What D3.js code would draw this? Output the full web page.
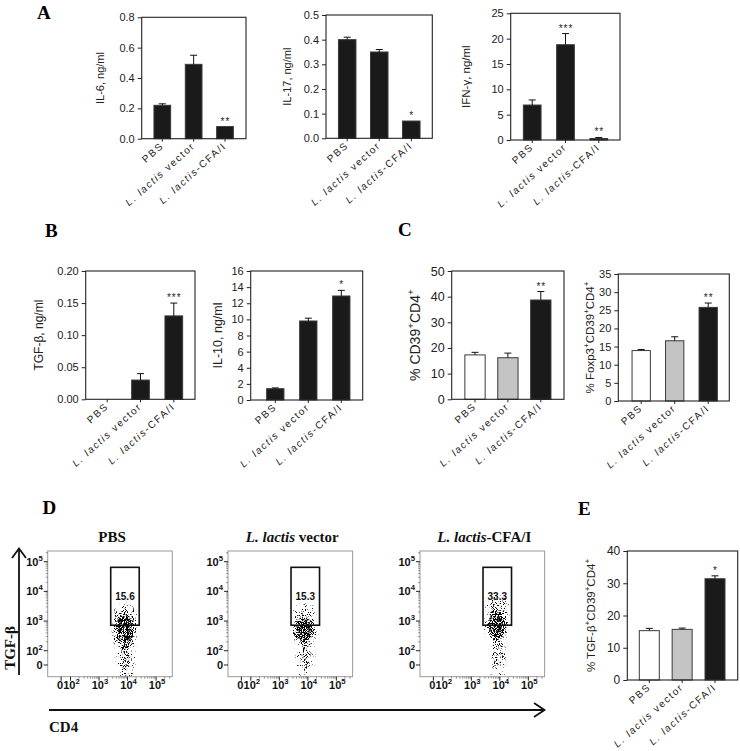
<!DOCTYPE html>
<html><head><meta charset="utf-8">
<script src="https://cdn.jsdelivr.net/npm/d3@7"></script>
<style>html,body{margin:0;padding:0;background:#fff;} svg{display:block;}</style>
</head><body>
<svg id="fig" width="740" height="751"></svg>
<script>
// ---------------- DATA ----------------
const groups = ["PBS", "L. lactis vector", "L. lactis-CFA/I"];

// Panel A
const il6 = [0.22, 0.49, 0.08], il6Err = [0.01, 0.06, 0.0], il6Sig = ["", "", "**"];
const il6Ticks = [0, 0.2, 0.4, 0.6, 0.8];
const il17 = [0.40, 0.35, 0.07], il17Err = [0.01, 0.01, 0.0], il17Sig = ["", "", "*"];
const il17Ticks = [0, 0.1, 0.2, 0.3, 0.4, 0.5];
const ifng = [6.9, 18.8, 0.3], ifngErr = [1.0, 2.2, 0.2], ifngSig = ["", "***", "**"];
const ifngTicks = [0, 5, 10, 15, 20, 25];
// Panel B
const tgfb = [0.0, 0.03, 0.13], tgfbErr = [0, 0.01, 0.02], tgfbSig = ["", "", "***"];
const tgfbTicks = [0, 0.05, 0.10, 0.15, 0.20];
const il10 = [1.4, 9.8, 12.9], il10Err = [0.1, 0.35, 0.7], il10Sig = ["", "", "*"];
const il10Ticks = [0, 2, 4, 6, 8, 10, 12, 14, 16];
// Panel C
const cd39 = [17.3, 16.2, 38.7], cd39Err = [1.0, 1.8, 3.3], cd39Sig = ["", "", "**"];
const cd39Ticks = [0, 10, 20, 30, 40, 50];
const foxp3 = [13.9, 16.6, 25.8], foxp3Err = [0.3, 1.1, 1.2], foxp3Sig = ["", "", "**"];
const foxp3Ticks = [0, 5, 10, 15, 20, 25, 30, 35];
// Panel E
const tgfbCells = [15.3, 15.7, 31.4], tgfbCellsErr = [0.7, 0.4, 0.9], tgfbCellsSig = ["", "", "*"];
const tgfbCellsTicks = [0, 10, 20, 30, 40];

// Panel D (flow cytometry, axis units = log10 display scale)
const gatePct = ["15.6", "15.3", "33.3"];
const gateBounds = [3.41, 4.41, 2.86, 4.81];       // x1, x2, y1, y2
const flowXTicks = [1.67, 2, 3, 4, 5];
const flowYTicks = [1.52, 2, 3, 4, 5];
const flowTickExp = ["", "2", "3", "4", "5"];      // "" means "0"
// event clouds: [x, y, rx, ry, density]
const cloudPBS    = [[3.90, 2.65, 0.38, 0.55, 0.62], [3.90, 3.20, 0.40, 0.32, 0.33], [3.93, 1.75, 0.28, 0.50, 0.42], [3.95, 1.16, 0.28, 0.05, 0.65]];
const cloudVector = [[3.88, 2.70, 0.37, 0.42, 0.68], [3.90, 3.25, 0.40, 0.32, 0.28], [3.90, 1.80, 0.27, 0.55, 0.38], [3.92, 1.16, 0.26, 0.05, 0.60]];
const cloudCFA    = [[3.90, 2.85, 0.37, 0.48, 0.68], [3.90, 3.50, 0.38, 0.36, 0.33], [3.93, 1.90, 0.24, 0.55, 0.38], [3.95, 1.16, 0.24, 0.05, 0.55]];

// ---------------- DRAW ----------------
const svg = d3.select("#fig");
svg.append("rect").attr("width", 740).attr("height", 751).attr("fill", "#fff");
const SANS = "'Liberation Sans', Arial, sans-serif";
const SERIF = "'Liberation Serif', 'Times New Roman', serif";

const defs = svg.append("defs");
const filt = defs.append("filter").attr("id", "stip")
  .attr("filterUnits", "userSpaceOnUse").attr("x", 0).attr("y", 0).attr("width", 740).attr("height", 751)
  .attr("color-interpolation-filters", "sRGB");
filt.append("feGaussianBlur").attr("in", "SourceAlpha").attr("stdDeviation", 2.5).attr("result", "dens");
filt.append("feTurbulence").attr("type", "fractalNoise").attr("baseFrequency", 1.1).attr("numOctaves", 1).attr("seed", 4).attr("result", "noise");
filt.append("feColorMatrix").attr("in", "noise").attr("type", "matrix")
  .attr("values", "0 0 0 0 0  0 0 0 0 0  0 0 0 0 0  2.4 0 0 0 -0.7").attr("result", "n");
filt.append("feComposite").attr("in", "n").attr("in2", "dens").attr("operator", "arithmetic")
  .attr("k1", 0).attr("k2", 5).attr("k3", 5.5).attr("k4", -5);

function rich(textSel, parts, fs) {
  let shifted = 0;
  parts.forEach(([t, kind]) => {
    const ts = textSel.append("tspan").text(t);
    if (kind === "i") ts.attr("font-style", "italic");
    if (kind === "sup") {
      const d = -fs * 0.45;
      ts.attr("font-size", fs * 0.7).attr("dy", d);
      shifted += d;
    } else if (shifted) { ts.attr("dy", -shifted); shifted = 0; }
  });
}
function groupParts(label) {
  if (label.startsWith("L. lactis")) return [["L. lactis", "i"], [label.slice(9), "n"]];
  return [[label, "n"]];
}

function panelLetter(t, x, y) {
  svg.append("text").attr("x", x).attr("y", y).attr("font-family", SERIF).attr("font-weight", "bold")
    .attr("font-size", 19).text(t);
}

function barPanel(o) {
  const y = d3.scaleLinear().domain([0, o.ticks[o.ticks.length - 1]]).range([o.bottom, o.top]);
  const x = d3.scalePoint().domain(groups).range([o.c0, o.c2]);
  const g = svg.append("g");
  const fills = o.fills || ["#1a1a1a", "#1a1a1a", "#1a1a1a"];
  g.selectAll("rect.bar").data(o.values).join("rect").attr("class", "bar")
    .attr("x", (d, i) => x(groups[i]) - o.bw / 2).attr("y", d => y(d))
    .attr("width", o.bw).attr("height", d => o.bottom - y(d))
    .attr("fill", (d, i) => fills[i]).attr("stroke", "#3a3a3a").attr("stroke-width", d => d > 0 ? 1 : 0);
  o.values.forEach((v, i) => {
    const cx = x(groups[i]), e = o.err[i];
    if (e > 0) {
      g.append("line").attr("x1", cx).attr("x2", cx).attr("y1", y(v)).attr("y2", y(v + e))
        .attr("stroke", "#111").attr("stroke-width", 1);
      g.append("line").attr("x1", cx - 3.5).attr("x2", cx + 3.5).attr("y1", y(v + e)).attr("y2", y(v + e))
        .attr("stroke", "#111").attr("stroke-width", 1);
    }
    if (o.sig[i]) {
      g.append("text").attr("x", cx + 0.5).attr("y", y(v + e) - 2).attr("text-anchor", "middle")
        .attr("font-family", SANS).attr("font-size", 10).attr("letter-spacing", 1).attr("fill", "#222").text(o.sig[i]);
    }
  });
  // frame
  g.append("rect").attr("x", o.x0).attr("y", o.top).attr("width", o.x1 - o.x0).attr("height", o.bottom - o.top)
    .attr("fill", "none").attr("stroke", "#222").attr("stroke-width", 1.1);
  // y axis
  const ax = g.append("g").attr("transform", `translate(${o.x0},0)`)
    .call(d3.axisLeft(y).tickValues(o.ticks).tickFormat(d3.format(o.fmt)).tickSize(4).tickPadding(3));
  ax.select(".domain").remove();
  ax.selectAll("line").attr("stroke", "#222");
  ax.selectAll("text").attr("font-family", SANS).attr("font-size", o.fs).attr("fill", "#222");
  // x ticks + labels
  groups.forEach(gname => {
    const cx = x(gname);
    g.append("line").attr("x1", cx).attr("x2", cx).attr("y1", o.bottom).attr("y2", o.bottom + 3).attr("stroke", "#222");
    const t = g.append("text").attr("transform", `translate(${cx + 2},${o.bottom + 8}) rotate(-42)`)
      .attr("text-anchor", "end").attr("font-family", SANS).attr("font-size", 10).attr("letter-spacing", 1.6).attr("fill", "#222");
    rich(t, groupParts(gname), 10);
  });
  // y label
  const yl = g.append("text").attr("transform", `translate(${o.labX},${(o.top + o.bottom) / 2}) rotate(-90)`)
    .attr("text-anchor", "middle").attr("font-family", SANS).attr("font-size", o.lfs).attr("fill", "#222");
  rich(yl, o.label, o.lfs);
}

const triFill = ["#ffffff", "#c4c4c4", "#1a1a1a"];

barPanel({values: il6, err: il6Err, sig: il6Sig, ticks: il6Ticks, fmt: ".1f", x0: 141.7, x1: 246, top: 17.3, bottom: 138.7, c0: 162.3, c2: 225, bw: 16.7, labX: 104, fs: 11, lfs: 11, label: [["IL-6, ng/ml", "n"]]});
barPanel({values: il17, err: il17Err, sig: il17Sig, ticks: il17Ticks, fmt: ".1f", x0: 326, x1: 432.3, top: 15, bottom: 138.3, c0: 347.2, c2: 411.3, bw: 17.5, labX: 291, fs: 11, lfs: 11, label: [["IL-17, ng/ml", "n"]]});
barPanel({values: ifng, err: ifngErr, sig: ifngSig, ticks: ifngTicks, fmt: "d", x0: 510.7, x1: 620, top: 13.3, bottom: 140, c0: 532.2, c2: 598.8, bw: 17.7, labX: 470, fs: 11, lfs: 11.5, label: [["IFN-γ, ng/ml", "n"]]});
barPanel({values: tgfb, err: tgfbErr, sig: tgfbSig, ticks: tgfbTicks, fmt: ".2f", x0: 85.7, x1: 195, top: 271, bottom: 399.3, c0: 107.2, c2: 173.8, bw: 17.7, labX: 43, fs: 11, lfs: 12, label: [["TGF-β, ng/ml", "n"]]});
barPanel({values: il10, err: il10Err, sig: il10Sig, ticks: il10Ticks, fmt: "d", x0: 250.7, x1: 362.7, top: 271, bottom: 400, c0: 275.3, c2: 341.3, bw: 17.3, labX: 222, fs: 11, lfs: 12.5, label: [["IL-10, ng/ml", "n"]]});
barPanel({values: cd39, err: cd39Err, sig: cd39Sig, ticks: cd39Ticks, fmt: "d", fills: triFill, x0: 451.7, x1: 564, top: 271, bottom: 399.3, c0: 475, c2: 540.8, bw: 20.3, labX: 420, fs: 12.5, lfs: 14, label: [["% CD39", "n"], ["+", "sup"], ["CD4", "n"], ["+", "sup"]]});
barPanel({values: foxp3, err: foxp3Err, sig: foxp3Sig, ticks: foxp3Ticks, fmt: "d", fills: triFill, x0: 618.3, x1: 729.3, top: 274, bottom: 401, c0: 641.2, c2: 708.2, bw: 18.3, labX: 594, fs: 11, lfs: 11.5, label: [["% Foxp3", "n"], ["+", "sup"], ["CD39", "n"], ["+", "sup"], ["CD4", "n"], ["+", "sup"]]});
barPanel({values: tgfbCells, err: tgfbCellsErr, sig: tgfbCellsSig, ticks: tgfbCellsTicks, fmt: "d", fills: triFill, x0: 627.3, x1: 737.7, top: 551, bottom: 680, c0: 649.3, c2: 715, bw: 20, labX: 595, fs: 12, lfs: 11.5, label: [["% TGF-β", "n"], ["+", "sup"], ["CD39", "n"], ["+", "sup"], ["CD4", "n"], ["+", "sup"]]});

// ---------------- FLOW PANELS ----------------
function flowPanel(idx, left, cloud) {
  const W = 124.6, top = 551, bottom = 676.7;
  const x = d3.scaleLinear().domain([1.2, 5.57]).range([left, left + W]);
  const y = d3.scaleLinear().domain([1.125, 5.36]).range([bottom, top]);
  const cid = "clip" + idx;
  defs.append("clipPath").attr("id", cid).append("rect").attr("x", left).attr("y", top).attr("width", W).attr("height", bottom - top);
  const g = svg.append("g");
  const cg = g.append("g").attr("clip-path", `url(#${cid})`).append("g").attr("filter", "url(#stip)");
  cg.selectAll("ellipse").data(cloud).join("ellipse")
    .attr("cx", d => x(d[0])).attr("cy", d => y(d[1]))
    .attr("rx", d => x(d[0] + d[2]) - x(d[0])).attr("ry", d => y(d[1]) - y(d[1] + d[3]))
    .attr("fill", "#000").attr("fill-opacity", d => d[4]);
  g.append("rect").attr("x", left).attr("y", top).attr("width", W).attr("height", bottom - top)
    .attr("fill", "none").attr("stroke", "#9a9a9a").attr("stroke-width", 1);
  // minor ticks
  const minors = [];
  for (let d = 2; d <= 5; d++) for (let k = 2; k <= 9; k++) minors.push(d + Math.log10(k));
  minors.filter(u => u < 5.36).forEach(u => {
    g.append("line").attr("x1", left).attr("x2", left - 2).attr("y1", y(u)).attr("y2", y(u)).attr("stroke", "#555").attr("stroke-width", 0.6);
  });
  minors.filter(u => u < 5.57).forEach(u => {
    g.append("line").attr("x1", x(u)).attr("x2", x(u)).attr("y1", bottom).attr("y2", bottom + 2).attr("stroke", "#555").attr("stroke-width", 0.6);
  });
  flowYTicks.forEach((u, i) => {
    g.append("line").attr("x1", left).attr("x2", left - 4).attr("y1", y(u)).attr("y2", y(u)).attr("stroke", "#222");
    const t = g.append("text").attr("x", left - 5).attr("y", y(u) + 4).attr("text-anchor", "end")
      .attr("font-family", SANS).attr("font-weight", "bold").attr("font-size", 11).attr("fill", "#111");
    if (flowTickExp[i]) rich(t, [["10", "n"], [flowTickExp[i], "sup"]], 11); else t.text("0");
  });
  flowXTicks.forEach((u, i) => {
    g.append("line").attr("x1", x(u)).attr("x2", x(u)).attr("y1", bottom).attr("y2", bottom + 4).attr("stroke", "#222");
    const t = g.append("text").attr("x", x(u) + (i === 0 ? -1 : 1)).attr("y", 688.5).attr("text-anchor", "middle")
      .attr("font-family", SANS).attr("font-weight", "bold").attr("font-size", 11).attr("fill", "#111");
    if (flowTickExp[i]) rich(t, [["10", "n"], [flowTickExp[i], "sup"]], 11); else t.text("0");
  });
  // gate
  const gx1 = x(gateBounds[0]), gx2 = x(gateBounds[1]), gy1 = y(gateBounds[3]), gy2 = y(gateBounds[2]);
  g.append("rect").attr("x", gx1).attr("y", gy1).attr("width", gx2 - gx1).attr("height", gy2 - gy1)
    .attr("fill", "none").attr("stroke", "#111").attr("stroke-width", 1.6);
  g.append("text").attr("x", (gx1 + gx2) / 2).attr("y", (gy1 + gy2) / 2 + 4).attr("text-anchor", "middle")
    .attr("font-family", SANS).attr("font-weight", "bold").attr("font-size", 10).attr("fill", "#111").text(gatePct[idx]);
  // title
  const tt = svg.append("text").attr("x", left + W / 2 + 2).attr("y", 541.7).attr("text-anchor", "middle")
    .attr("font-family", SERIF).attr("font-weight", "bold").attr("font-size", 15).attr("fill", "#111");
  rich(tt, groupParts(groups[idx]), 15);
}
flowPanel(0, 47.7, cloudPBS);
flowPanel(1, 228, cloudVector);
flowPanel(2, 420, cloudCFA);

// axis arrows
svg.append("line").attr("x1", 19).attr("x2", 19).attr("y1", 675).attr("y2", 549).attr("stroke", "#111").attr("stroke-width", 1.8);
svg.append("polyline").attr("points", "12,558 19,548.5 26,558").attr("fill", "none").attr("stroke", "#111").attr("stroke-width", 1.8);
svg.append("text").attr("transform", "translate(15,648) rotate(-90)").attr("text-anchor", "middle")
  .attr("font-family", SERIF).attr("font-weight", "bold").attr("font-size", 15).attr("fill", "#111").text("TGF-β");
svg.append("line").attr("x1", 49).attr("x2", 544).attr("y1", 710).attr("y2", 710).attr("stroke", "#111").attr("stroke-width", 1.8);
svg.append("polyline").attr("points", "534,703 544.5,710 534,717").attr("fill", "none").attr("stroke", "#111").attr("stroke-width", 1.8);
svg.append("text").attr("x", 49).attr("y", 731.5).attr("font-family", SERIF).attr("font-weight", "bold")
  .attr("font-size", 15).attr("fill", "#111").text("CD4");

panelLetter("A", 37, 19);
panelLetter("B", 45, 236.5);
panelLetter("C", 398, 236);
panelLetter("D", 42.5, 514);
panelLetter("E", 578, 515);
</script>
</body></html>
